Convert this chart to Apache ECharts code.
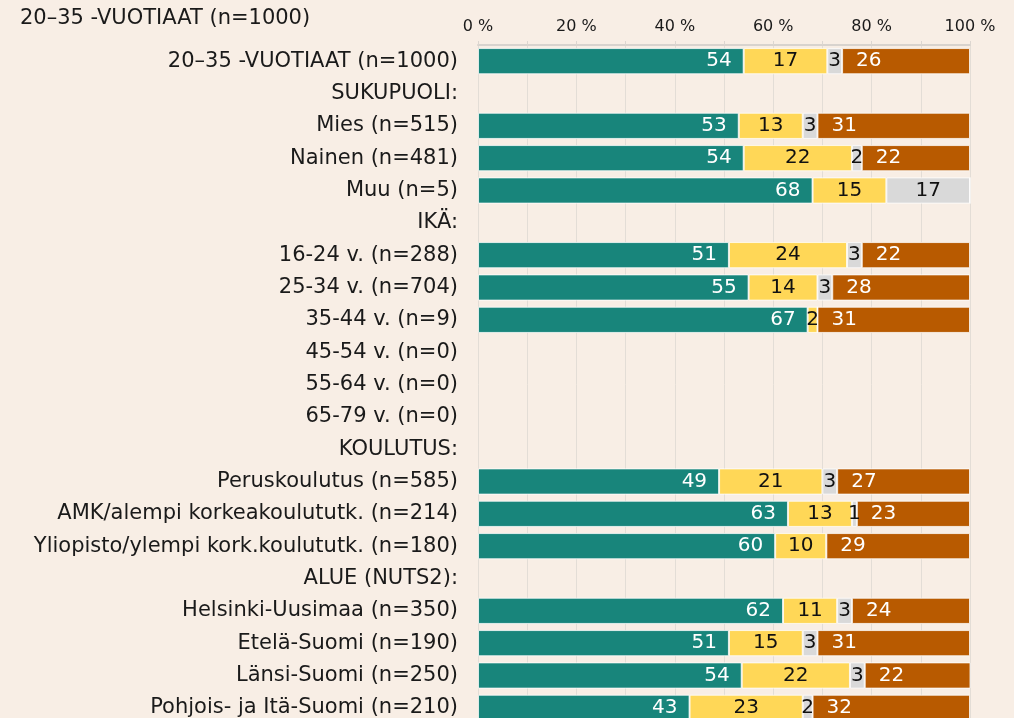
<!DOCTYPE html>
<html>
<head>
<meta charset="utf-8">
<script src="https://cdn.jsdelivr.net/npm/echarts@6/dist/echarts.min.js"></script>
<style>
html,body{margin:0;padding:0;background:#F8EEE5;overflow:hidden;}
#c{width:1014px;height:724px;}
</style>
</head>
<body>
<div id="c"></div>
<script>
var headerText = '20–35 -VUOTIAAT (n=1000)';
var categories = [
  '20–35 -VUOTIAAT (n=1000)',
  'SUKUPUOLI:',
  'Mies (n=515)',
  'Nainen (n=481)',
  'Muu (n=5)',
  'IKÄ:',
  '16-24 v. (n=288)',
  '25-34 v. (n=704)',
  '35-44 v. (n=9)',
  '45-54 v. (n=0)',
  '55-64 v. (n=0)',
  '65-79 v. (n=0)',
  'KOULUTUS:',
  'Peruskoulutus (n=585)',
  'AMK/alempi korkeakoulututk. (n=214)',
  'Yliopisto/ylempi kork.koulututk. (n=180)',
  'ALUE (NUTS2):',
  'Helsinki-Uusimaa (n=350)',
  'Etelä-Suomi (n=190)',
  'Länsi-Suomi (n=250)',
  'Pohjois- ja Itä-Suomi (n=210)'
];
var tealValues   = [54, null, 53, 54, 68, null, 51, 55, 67, null, null, null, null, 49, 63, 60.4, null, 62, 51, 53.6, 43];
var yellowValues = [17, null, 13, 22, 15, null, 24, 14, 2,  null, null, null, null, 21, 13, 10.4, null, 11, 15, 22,   23];
var greyValues   = [3,  null, 3,  2,  17, null, 3,  3,  0,  null, null, null, null, 3,  1,  0,    null, 3,  3,  3,    2];
var orangeValues = [26, null, 31, 22, 0,  null, 22, 28, 31, null, null, null, null, 27, 23, 29.2, null, 24, 31, 21.5, 32];
var axisTicks = [0, 20, 40, 60, 80, 100];

var FONT = 'DejaVu Sans';
var chart = echarts.init(document.getElementById('c'));

function lbl(v){ return (v.value === null || v.value === 0) ? '' : String(Math.round(v.value)); }

function mk(name, data, color, textColor, pos, dist){
  return {
    name: name, type: 'bar', stack: 'total', data: data,
    barCategoryGap: '19%',
    itemStyle: {color: color, borderColor: 'rgba(255,255,255,0.75)', borderWidth: 1},
    label: {show: true, position: pos, distance: dist, color: textColor,
            fontFamily: FONT, fontSize: 20, formatter: lbl},
    emphasis: {disabled: true},
    animation: false
  };
}

chart.setOption({
  backgroundColor: '#F8EEE5',
  animation: false,
  textStyle: {fontFamily: FONT},
  graphic: [{
    type: 'text', left: 20, top: 8,
    style: {text: headerText, font: '21px "' + FONT + '"', fill: '#1a1a1a'}
  }],
  grid: {left: 478, right: 44, top: 45, bottom: 0, containLabel: false},
  xAxis: {
    type: 'value', position: 'top', min: 0, max: 100, interval: 10,
    axisLine: {show: true, lineStyle: {color: '#D8D3CE', width: 2}},
    axisTick: {show: true, length: 4, lineStyle: {color: '#DCD6D0'}},
    splitLine: {show: true, lineStyle: {color: '#E3DDD6', width: 1}},
    axisLabel: {
      margin: 10, color: '#1a1a1a', fontFamily: FONT, fontSize: 16,
      formatter: function(v){ return axisTicks.indexOf(v) >= 0 ? v + ' %' : ''; }
    }
  },
  yAxis: {
    type: 'category', data: categories, inverse: true,
    axisLine: {show: false}, axisTick: {show: false},
    axisLabel: {margin: 20, color: '#1a1a1a', fontFamily: FONT, fontSize: 21}
  },
  series: [
    mk('A', tealValues, '#18857B', '#ffffff', 'insideRight', 12),
    mk('B', yellowValues, '#FFD757', '#111111', 'inside', 5),
    mk('C', greyValues, '#D9D9D9', '#111111', 'inside', 5),
    mk('D', orangeValues, '#B85A00', '#ffffff', 'insideLeft', 14)
  ]
});
</script>
</body>
</html>
